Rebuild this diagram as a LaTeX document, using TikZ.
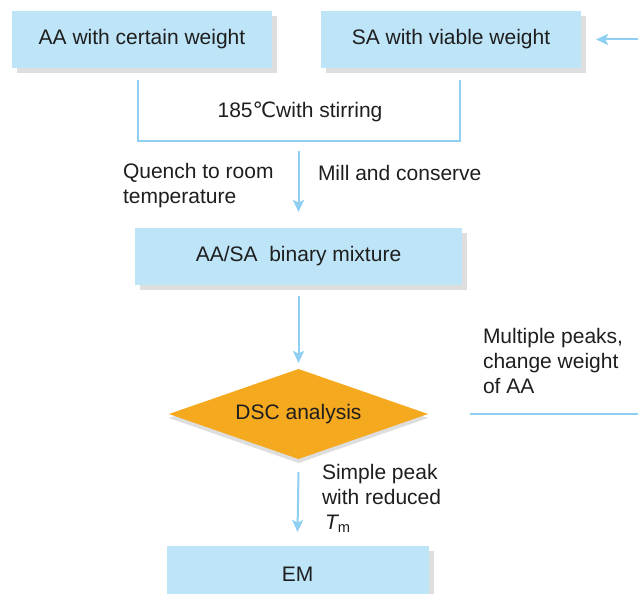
\documentclass[tikz,border=0pt]{standalone}
\usepackage{fontspec}
\setmainfont{Liberation Sans}
\newfontfamily\symfont{DejaVu Sans}
\usetikzlibrary{arrows.meta,shapes.geometric,shadows}
\definecolor{fcblue}{HTML}{BEE4F8}
\definecolor{fcline}{HTML}{8FD0F2}
\definecolor{fcorange}{HTML}{F5A91F}
\definecolor{fcshade}{HTML}{DEDEDE}
\definecolor{fcink}{HTML}{1E1E1E}
\tikzset{
  fc text/.style={font=\fontsize{21}{25}\selectfont,text=fcink,inner sep=0pt,outer sep=0pt},
  fc box/.style={fc text,rectangle,fill=fcblue,minimum height=57pt,
    drop shadow={shadow xshift=5pt,shadow yshift=-5pt,fill=fcshade,opacity=1}},
  fc diamond/.style={fc text,diamond,aspect=2.88,fill=fcorange,minimum width=259pt,minimum height=90pt,
    drop shadow={shadow xshift=0pt,shadow yshift=-4pt,fill=fcshade,opacity=1}},
  fc note/.style={fc text,align=left,anchor=west},
  fc line/.style={fcline,line width=2pt},
  fc arrow/.style={fc line,-{Stealth[length=12pt,width=11pt,inset=2.5pt]}}
}

\begin{document}
\begin{tikzpicture}[x=1pt,y=-1pt]
  \useasboundingbox (0,0) rectangle (638,594);

  \node[fc box,minimum width=260pt] (aa) at (142,39.5) {AA with certain weight};
  \node[fc box,minimum width=260pt] (sa) at (451,39.5) {SA with viable weight};
  \node[fc text] (heat) at (300,112) {185{\symfont ℃}with stirring};
  \coordinate (bracketL) at (138,80);
  \coordinate (bracketR) at (460,80);
  \draw[fc line] (bracketL) -- ++(0,61) -| (bracketR);

  \node[fc note] (quench) at (123,185.5) {Quench to room\\temperature};
  \node[fc note] (mill) at (318,173) {Mill and conserve};
  \node[fc box,minimum width=327pt] (mix) at (298.5,256.5) {AA/SA\ \ binary mixture};
  \draw[fc arrow] ([yshift=77pt]mix.north) -- ([yshift=16pt]mix.north);

  \node[fc diamond] (dsc) at (298.5,414) {DSC analysis};
  \draw[fc arrow] ([yshift=-11pt]mix.south) -- ([yshift=6pt]dsc.north);

  \node[fc note] (multi) at (483,361) {Multiple peaks,\\change weight\\of AA};
  \draw[fc arrow] ([xshift=42pt]dsc.east) -- (650,414) |- ([xshift=15pt]sa.east);

  \node[fc box,minimum width=262pt] (em) at (297.5,574.5) {EM};
  \node[fc note] (simple) at (322,498) {Simple peak\\with reduced\\\hspace{3pt}{\itshape T}\textsubscript{m}};
  \draw[fc arrow] ([yshift=-13pt]dsc.south) -- ([yshift=14pt]em.north);
\end{tikzpicture}
\end{document}
